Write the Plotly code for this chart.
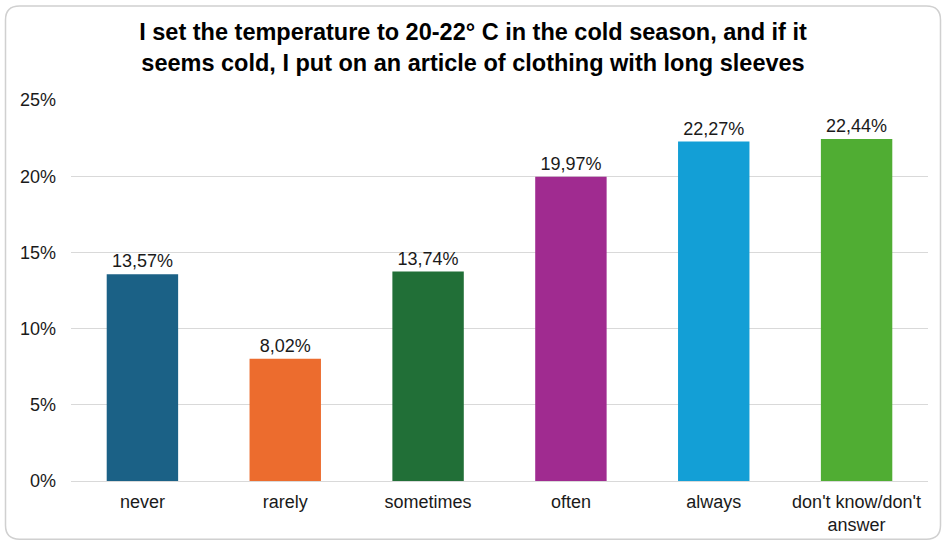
import plotly.graph_objects as go

categories = ["never", "rarely", "sometimes", "often", "always", "don't know/don't<br>answer"]
values = [13.57, 8.02, 13.74, 19.97, 22.27, 22.44]
colors = ["#1b6186", "#ec6c2e", "#216f37", "#a02b90", "#139fd6", "#50ad33"]
tick_vals = [0, 5, 10, 15, 20, 25]
tick_text = ["0%", "5%", "10%", "15%", "20%", "25%"]
title_text = "I set the temperature to 20-22° C in the cold season, and if it<br>seems cold, I put on an article of clothing with long sleeves"

W, H = 946, 547
L, R, T, B = 71, 18, 100, 64
pw, ph = W - L - R, H - T - B
FONT = "Liberation Sans, Arial"

def px(x):
    return (x - L) / pw

def py(y):
    return (H - B - y) / ph

fig = go.Figure(go.Bar(
    x=categories, y=values,
    marker=dict(color=colors, line=dict(width=0)),
    texttemplate="%{y:.2f}%", textposition="outside",
    textfont=dict(family=FONT, size=18, color="#1a1a1a"),
    cliponaxis=False, width=0.5,
))

# rounded border
x0, x1, y0, y1, r = 5.5, 940.5, 5.5, 541.5, 14
path = (f"M {px(x0+r)},{py(y0)} L {px(x1-r)},{py(y0)} Q {px(x1)},{py(y0)} {px(x1)},{py(y0+r)} "
        f"L {px(x1)},{py(y1-r)} Q {px(x1)},{py(y1)} {px(x1-r)},{py(y1)} "
        f"L {px(x0+r)},{py(y1)} Q {px(x0)},{py(y1)} {px(x0)},{py(y1-r)} "
        f"L {px(x0)},{py(y0+r)} Q {px(x0)},{py(y0)} {px(x0+r)},{py(y0)} Z")

fig.update_layout(
    width=W, height=H,
    margin=dict(l=L, r=R, t=T, b=B),
    paper_bgcolor="white", plot_bgcolor="white",
    separators=",.",
    showlegend=False,
    title=dict(text=title_text, x=0.5, xref="container", xanchor="center",
               y=(H - 40) / H, yref="container", yanchor="middle",
               font=dict(family=FONT, size=23.5, color="#000000", weight="bold")),
    xaxis=dict(showline=False, showgrid=False, ticks="", ticklabelstandoff=8,
               tickfont=dict(family=FONT, size=18, color="#1a1a1a")),
    yaxis=dict(range=[0, 25], tickmode="array", tickvals=tick_vals, ticktext=tick_text,
               showgrid=True, gridcolor="#d9d9d9", gridwidth=1, zeroline=True,
               zerolinecolor="#d9d9d9", zerolinewidth=1, showline=False, ticks="",
               ticklabelstandoff=14,
               tickfont=dict(family=FONT, size=18, color="#1a1a1a")),
    shapes=[dict(type="path", path=path, xref="paper", yref="paper",
                 line=dict(color="#d0d0d0", width=1.5), layer="below")],
)

fig.write_html("out.html", config={"displayModeBar": False},
               post_script="document.body.style.margin='0';document.body.style.overflow='hidden';")
